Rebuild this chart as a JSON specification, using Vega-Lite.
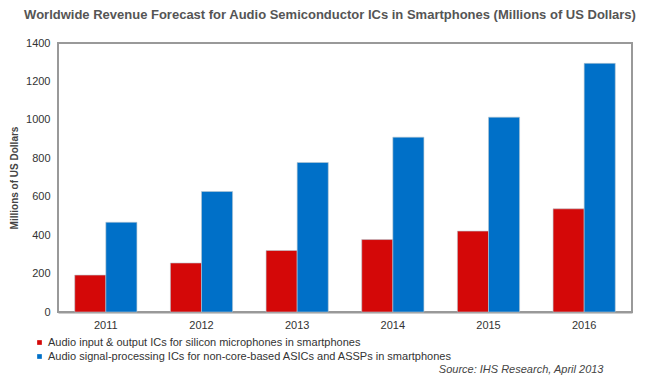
{
  "$schema": "https://vega.github.io/schema/vega-lite/v6.json",
  "width": 574,
  "height": 269,
  "autosize": {"type": "none"},
  "padding": {"left": 58, "top": 43, "right": 18, "bottom": 67},
  "background": "white",
  "title": {
    "text": "Worldwide Revenue Forecast for Audio Semiconductor ICs in Smartphones (Millions of US Dollars)",
    "font": "Liberation Sans",
    "fontSize": 13,
    "fontWeight": "bold",
    "color": "#555555",
    "anchor": "middle",
    "frame": "group",
    "dx": -15,
    "offset": 15
  },
  "data": {
    "values": [
      {"year": "2011", "series": "Audio input & output ICs for silicon microphones in smartphones", "value": 192},
      {"year": "2011", "series": "Audio signal-processing ICs for non-core-based ASICs and ASSPs in smartphones", "value": 467},
      {"year": "2012", "series": "Audio input & output ICs for silicon microphones in smartphones", "value": 255},
      {"year": "2012", "series": "Audio signal-processing ICs for non-core-based ASICs and ASSPs in smartphones", "value": 627},
      {"year": "2013", "series": "Audio input & output ICs for silicon microphones in smartphones", "value": 320},
      {"year": "2013", "series": "Audio signal-processing ICs for non-core-based ASICs and ASSPs in smartphones", "value": 778},
      {"year": "2014", "series": "Audio input & output ICs for silicon microphones in smartphones", "value": 377},
      {"year": "2014", "series": "Audio signal-processing ICs for non-core-based ASICs and ASSPs in smartphones", "value": 910},
      {"year": "2015", "series": "Audio input & output ICs for silicon microphones in smartphones", "value": 421},
      {"year": "2015", "series": "Audio signal-processing ICs for non-core-based ASICs and ASSPs in smartphones", "value": 1014},
      {"year": "2016", "series": "Audio input & output ICs for silicon microphones in smartphones", "value": 537},
      {"year": "2016", "series": "Audio signal-processing ICs for non-core-based ASICs and ASSPs in smartphones", "value": 1294}
    ]
  },
  "mark": {"type": "bar", "stroke": "#b8c8d0", "strokeWidth": 0.6},
  "encoding": {
    "x": {
      "field": "year",
      "type": "nominal",
      "scale": {"paddingInner": 0.35, "paddingOuter": 0.175},
      "axis": {
        "title": "Source: IHS Research, April 2013",
        "titleFont": "Liberation Sans",
        "titleFontSize": 11,
        "titleFontStyle": "italic",
        "titleFontWeight": "normal",
        "titleColor": "#444444",
        "titleAnchor": "end",
        "titleAlign": "right",
        "titleBaseline": "alphabetic",
        "titleX": 545,
        "titleY": 60,
        "labelAngle": 0,
        "labelFont": "Liberation Sans",
        "labelFontSize": 11,
        "labelColor": "#333333",
        "labelPadding": 7,
        "ticks": false,
        "domain": true,
        "domainColor": "#999999",
        "domainWidth": 2
      }
    },
    "xOffset": {
      "field": "series",
      "type": "nominal",
      "scale": {"domain": ["Audio input & output ICs for silicon microphones in smartphones", "Audio signal-processing ICs for non-core-based ASICs and ASSPs in smartphones"], "paddingInner": 0, "paddingOuter": 0}
    },
    "y": {
      "field": "value",
      "type": "quantitative",
      "scale": {"domain": [0, 1400]},
      "axis": {
        "title": "Millions of US Dollars",
        "titleFont": "Liberation Sans",
        "titleFontSize": 10,
        "titleFontWeight": "bold",
        "titleColor": "#444444",
        "titlePadding": 6,
        "values": [0, 200, 400, 600, 800, 1000, 1200, 1400],
        "format": "d",
        "labelFont": "Liberation Sans",
        "labelFontSize": 11,
        "labelColor": "#333333",
        "labelPadding": 8,
        "ticks": false,
        "domain": false,
        "grid": false
      }
    },
    "color": {
      "field": "series",
      "type": "nominal",
      "scale": {
        "domain": ["Audio input & output ICs for silicon microphones in smartphones", "Audio signal-processing ICs for non-core-based ASICs and ASSPs in smartphones"],
        "range": ["#d40808", "#0070c8"]
      },
      "legend": {
        "title": null,
        "orient": "none",
        "legendX": -24,
        "legendY": 294,
        "symbolType": "square",
        "symbolSize": 22,
        "symbolStrokeWidth": 0,
        "labelFont": "Liberation Sans",
        "labelFontSize": 11,
        "labelColor": "#333333",
        "labelLimit": 600,
        "labelOffset": 3,
        "rowPadding": 2
      }
    }
  },
  "config": {
    "view": {"stroke": "#999999", "strokeWidth": 2}
  }
}
